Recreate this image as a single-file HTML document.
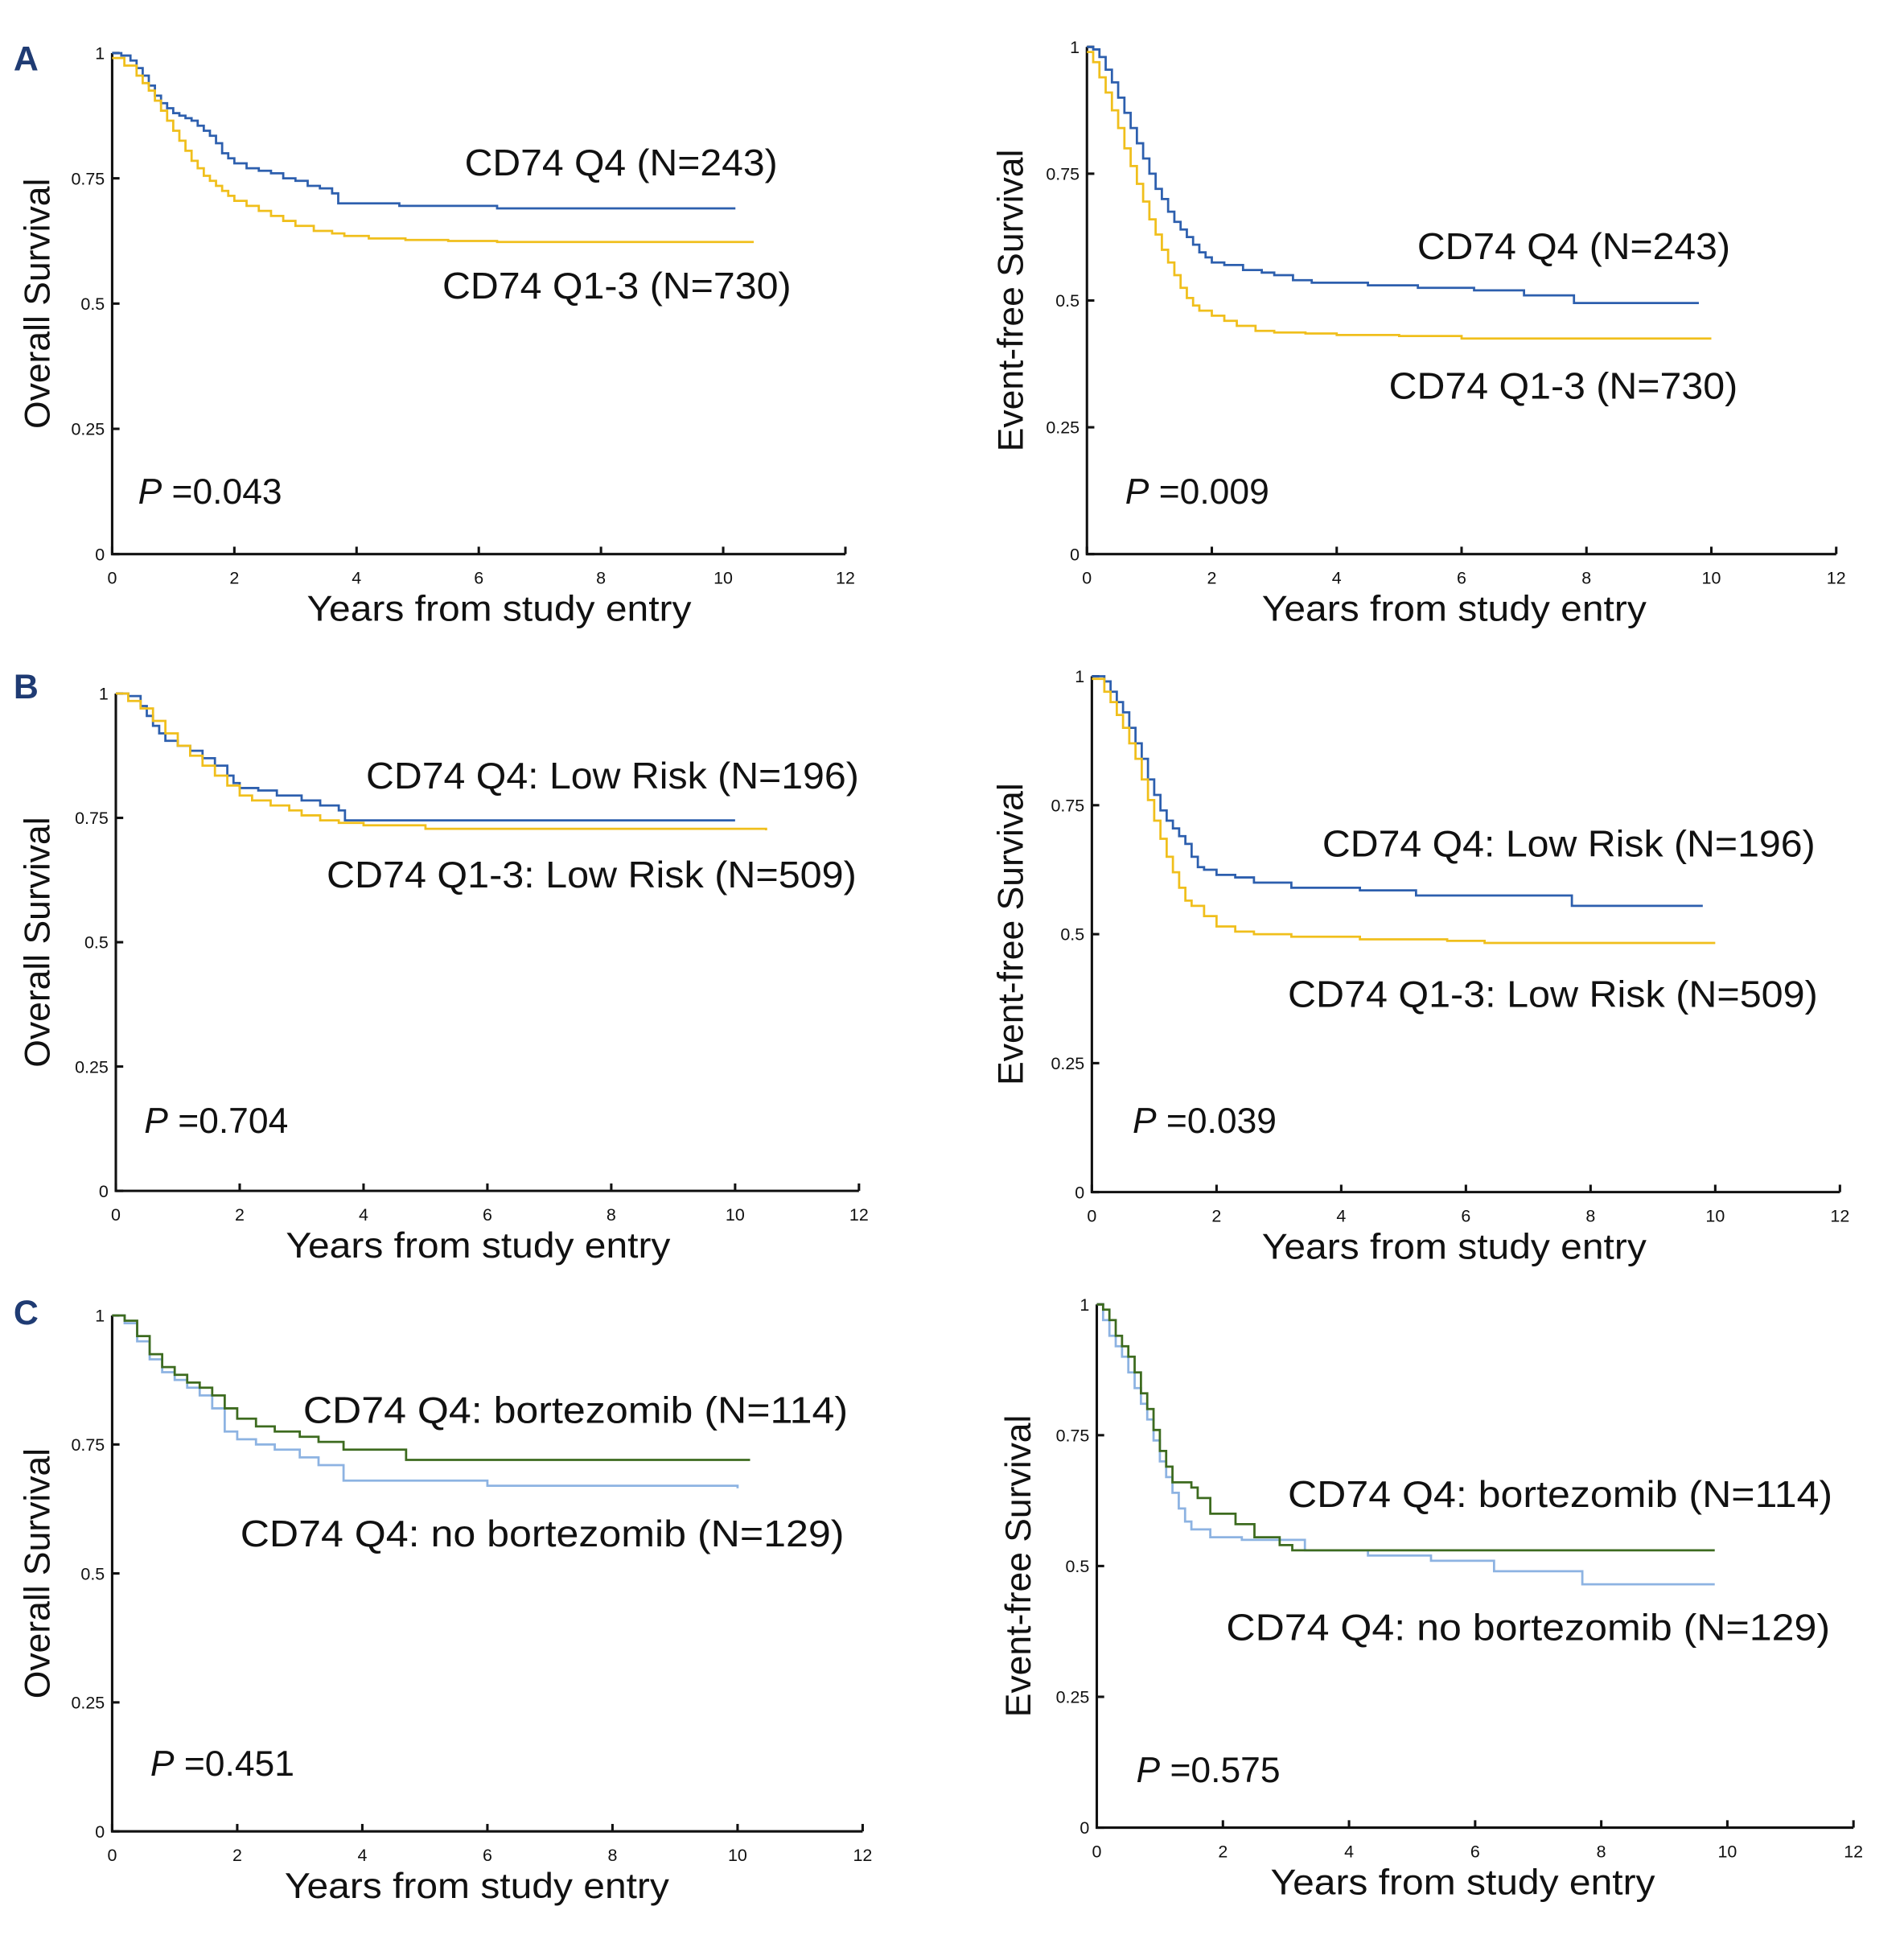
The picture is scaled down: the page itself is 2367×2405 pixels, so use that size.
<!DOCTYPE html>
<html><head><meta charset="utf-8"><style>
html,body{margin:0;padding:0;background:#fff}
svg{display:block}
text{font-family:"Liberation Sans",sans-serif;fill:#111}
</style></head><body>
<svg id="fig" width="2367" height="2405" viewBox="0 0 1545 1568" preserveAspectRatio="none" xmlns="http://www.w3.org/2000/svg"></svg>
<script>
// ---- data (years, survival probability) ----
const xTicks = [0,2,4,6,8,10,12];
const yTicks = [0,0.25,0.5,0.75,1];
const yTickLabels = ["0","0.25","0.5","0.75","1"];

const aOsQ4T = [0,0.15,0.3,0.4,0.5,0.6,0.7,0.8,0.9,1,1.1,1.2,1.3,1.4,1.5,1.6,1.7,1.8,1.9,2,2.2,2.4,2.6,2.8,3,3.2,3.4,3.6,3.7,4.7,6.3,10.2];
const aOsQ4S = [1,0.995,0.985,0.97,0.955,0.935,0.915,0.9,0.89,0.88,0.875,0.87,0.865,0.855,0.845,0.835,0.82,0.8,0.79,0.78,0.77,0.765,0.76,0.75,0.745,0.735,0.73,0.72,0.70,0.695,0.69,0.69];
const aOsQ13T = [0,0.2,0.4,0.5,0.6,0.7,0.8,0.9,1,1.1,1.2,1.3,1.4,1.5,1.6,1.7,1.8,1.9,2,2.2,2.4,2.6,2.8,3,3.3,3.6,3.8,4.2,4.8,5.5,6.3,10.5];
const aOsQ13S = [0.99,0.975,0.955,0.94,0.925,0.905,0.885,0.865,0.845,0.825,0.805,0.785,0.77,0.755,0.745,0.735,0.725,0.715,0.705,0.695,0.685,0.675,0.665,0.655,0.645,0.64,0.635,0.63,0.627,0.625,0.623,0.623];

const aEfsQ4T = [0,0.1,0.2,0.3,0.4,0.5,0.6,0.7,0.8,0.9,1,1.1,1.2,1.3,1.4,1.5,1.6,1.7,1.8,1.9,2,2.2,2.5,2.8,3,3.3,3.6,4.5,5.3,6.2,7,7.8,9.8];
const aEfsQ4S = [1,0.995,0.98,0.955,0.93,0.9,0.87,0.84,0.81,0.78,0.75,0.72,0.7,0.675,0.655,0.64,0.625,0.61,0.595,0.585,0.575,0.57,0.56,0.555,0.55,0.54,0.535,0.53,0.525,0.52,0.51,0.495,0.495];
const aEfsQ13T = [0,0.1,0.2,0.3,0.4,0.5,0.6,0.7,0.8,0.9,1,1.1,1.2,1.3,1.4,1.5,1.6,1.7,1.8,2,2.2,2.4,2.7,3,3.5,4,5,6,10];
const aEfsQ13S = [0.99,0.97,0.94,0.91,0.875,0.84,0.8,0.765,0.73,0.695,0.66,0.63,0.6,0.575,0.55,0.525,0.505,0.49,0.48,0.47,0.46,0.45,0.44,0.437,0.435,0.432,0.43,0.425,0.425];

const bOsQ4T = [0,0.2,0.4,0.5,0.6,0.7,0.8,1,1.2,1.4,1.6,1.8,1.9,2,2.3,2.6,3,3.3,3.6,3.7,10];
const bOsQ4S = [1,0.995,0.975,0.955,0.935,0.92,0.905,0.895,0.885,0.87,0.855,0.835,0.82,0.81,0.805,0.795,0.785,0.775,0.765,0.745,0.745];
const bOsQ13T = [0,0.2,0.4,0.6,0.8,1,1.2,1.4,1.6,1.8,2,2.2,2.5,2.8,3,3.3,3.6,4,5,10.5];
const bOsQ13S = [1,0.985,0.97,0.945,0.92,0.895,0.875,0.855,0.835,0.815,0.795,0.785,0.775,0.765,0.755,0.745,0.74,0.735,0.728,0.725];

const bEfsQ4T = [0,0.2,0.3,0.4,0.5,0.6,0.7,0.8,0.9,1,1.1,1.2,1.3,1.4,1.5,1.6,1.7,1.8,2,2.3,2.6,3.2,4.3,5.2,7.7,9.8];
const bEfsQ4S = [1,0.99,0.97,0.95,0.93,0.9,0.87,0.84,0.8,0.77,0.74,0.72,0.705,0.69,0.675,0.65,0.63,0.625,0.615,0.61,0.6,0.59,0.585,0.575,0.555,0.555];
const bEfsQ13T = [0,0.2,0.3,0.4,0.5,0.6,0.7,0.8,0.9,1,1.1,1.2,1.3,1.4,1.5,1.6,1.8,2,2.3,2.6,3.2,4.3,5.7,6.3,10];
const bEfsQ13S = [0.995,0.97,0.95,0.925,0.9,0.87,0.84,0.8,0.76,0.72,0.685,0.65,0.62,0.59,0.565,0.555,0.535,0.515,0.505,0.5,0.495,0.49,0.487,0.483,0.483];

const cOsBzT = [0,0.2,0.4,0.6,0.8,1,1.2,1.4,1.6,1.8,2,2.3,2.6,3,3.3,3.7,4.7,10.2];
const cOsBzS = [1,0.99,0.96,0.925,0.9,0.885,0.87,0.86,0.845,0.82,0.8,0.785,0.775,0.765,0.755,0.74,0.72,0.72];
const cOsNoT = [0,0.2,0.4,0.6,0.8,1,1.2,1.4,1.6,1.8,2,2.3,2.6,3,3.3,3.7,6,10];
const cOsNoS = [1,0.985,0.95,0.915,0.89,0.875,0.86,0.845,0.82,0.775,0.76,0.75,0.74,0.725,0.71,0.68,0.67,0.665];

const cEfsBzT = [0,0.1,0.2,0.3,0.4,0.5,0.6,0.7,0.8,0.9,1,1.1,1.2,1.5,1.6,1.8,2.2,2.5,2.9,3.1,9.8];
const cEfsBzS = [1,0.99,0.97,0.94,0.92,0.9,0.87,0.83,0.8,0.76,0.72,0.69,0.66,0.65,0.63,0.6,0.58,0.555,0.54,0.53,0.53];
const cEfsNoT = [0,0.1,0.2,0.3,0.4,0.5,0.6,0.7,0.8,0.9,1,1.1,1.2,1.3,1.4,1.5,1.8,2.3,3.3,4.3,5.3,6.3,7.7,9.8];
const cEfsNoS = [1,0.97,0.94,0.92,0.9,0.87,0.84,0.81,0.78,0.74,0.7,0.67,0.64,0.61,0.585,0.57,0.555,0.55,0.53,0.52,0.51,0.49,0.465,0.465];

// ---- layout ----
const BLUE="#2d5fae", GOLD="#f0bf1c", GREEN="#3d6b1f", LBLUE="#8db3e2";
const panels = [
 {id:"a-os",x0:91,x1:686,yT:43,yB:449,yl:"Overall Survival",ylx:40,xlx:405,p:"=0.043",px:112,py:408,
  curves:[[aOsQ4T,aOsQ4S,BLUE,"q4"],[aOsQ13T,aOsQ13S,GOLD,"q1-3"]],
  labels:[["CD74 Q4 (N=243)",377,142,254],["CD74 Q1-3 (N=730)",359,242,283]]},
 {id:"a-efs",x0:882,x1:1490,yT:38,yB:449,yl:"Event-free Survival",ylx:830,xlx:1180,p:"=0.009",px:913,py:408,
  curves:[[aEfsQ4T,aEfsQ4S,BLUE,"q4"],[aEfsQ13T,aEfsQ13S,GOLD,"q1-3"]],
  labels:[["CD74 Q4 (N=243)",1150,210,254],["CD74 Q1-3 (N=730)",1127,323,283]]},
 {id:"b-os",x0:94,x1:697,yT:562,yB:965,yl:"Overall Survival",ylx:40,xlx:388,p:"=0.704",px:117,py:918,
  curves:[[bOsQ4T,bOsQ4S,BLUE,"q4"],[bOsQ13T,bOsQ13S,GOLD,"q1-3"]],
  labels:[["CD74 Q4: Low Risk (N=196)",297,639,400],["CD74 Q1-3: Low Risk (N=509)",265,719,430]]},
 {id:"b-efs",x0:886,x1:1493,yT:548,yB:966,yl:"Event-free Survival",ylx:830,xlx:1180,p:"=0.039",px:919,py:918,
  curves:[[bEfsQ4T,bEfsQ4S,BLUE,"q4"],[bEfsQ13T,bEfsQ13S,GOLD,"q1-3"]],
  labels:[["CD74 Q4: Low Risk (N=196)",1073,694,400],["CD74 Q1-3: Low Risk (N=509)",1045,816,430]]},
 {id:"c-os",x0:91,x1:700,yT:1066,yB:1484,yl:"Overall Survival",ylx:40,xlx:387,p:"=0.451",px:122,py:1439,
  curves:[[cOsNoT,cOsNoS,LBLUE,"no-bortezomib"],[cOsBzT,cOsBzS,GREEN,"bortezomib"]],
  labels:[["CD74 Q4: bortezomib (N=114)",246,1153,442],["CD74 Q4: no bortezomib (N=129)",195,1253,490]]},
 {id:"c-efs",x0:890,x1:1504,yT:1057,yB:1481,yl:"Event-free Survival",ylx:836,xlx:1187,p:"=0.575",px:922,py:1444,
  curves:[[cEfsNoT,cEfsNoS,LBLUE,"no-bortezomib"],[cEfsBzT,cEfsBzS,GREEN,"bortezomib"]],
  labels:[["CD74 Q4: bortezomib (N=114)",1045,1221,442],["CD74 Q4: no bortezomib (N=129)",995,1329,490]]}
];
const NS="http://www.w3.org/2000/svg";
const svg=document.getElementById("fig");
function mk(tag,attrs,parent,txt){const e=document.createElementNS(NS,tag);for(const k in attrs)e.setAttribute(k,attrs[k]);if(txt!==undefined)e.textContent=txt;(parent||svg).appendChild(e);return e;}

[["A",57],["B",566],["C",1073]].forEach(([l,y])=>{
  const t=mk("text",{x:11,y:y,"font-size":28,"font-weight":"bold",style:"fill:#1f3b73"},svg,l);
  
  
});

panels.forEach(P=>{
  const g=mk("g",{});
  
  
  const sx=v=>P.x0+(P.x1-P.x0)*v/12;
  const sy=v=>P.yB-(P.yB-P.yT)*v;
  const ax=mk("path",{d:`M${P.x0},${P.yT} V${P.yB} H${P.x1}`,stroke:"#111","stroke-width":2,fill:"none"},g);
  
  
  xTicks.forEach(v=>{
    mk("line",{x1:sx(v),x2:sx(v),y1:P.yB,y2:P.yB-6,stroke:"#111","stroke-width":2},g);
    const t=mk("text",{x:sx(v),y:P.yB+24,"font-size":14,"text-anchor":"middle"},g,String(v));
    
    
  });
  yTicks.forEach((v,i)=>{
    mk("line",{x1:P.x0,x2:P.x0+6,y1:sy(v),y2:sy(v),stroke:"#111","stroke-width":2},g);
    const t=mk("text",{x:P.x0-6,y:sy(v)+5,"font-size":14,"text-anchor":"end"},g,yTickLabels[i]);
    
    
  });
  const xl=mk("text",{x:P.xlx,y:P.yB+54,"font-size":29,"text-anchor":"middle",textLength:312,lengthAdjust:"spacingAndGlyphs"},g,"Years from study entry");
  
  
  const yc=(P.yT+P.yB)/2;
  const yl=mk("text",{x:0,y:0,"font-size":29,"text-anchor":"middle",transform:`translate(${P.ylx},${yc}) rotate(-90)`},g,P.yl);
  
  
  P.curves.forEach(([T,S,col,nm])=>{
    let d=`M${sx(T[0])},${sy(S[0])}`;
    for(let i=1;i<T.length;i++){d+=` H${sx(T[i])} V${sy(S[i])}`;}
    const p=mk("path",{d,stroke:col,"stroke-width":1.8,fill:"none"},g);
    
    
  });
  P.labels.forEach(([txt,x,y,w])=>{
    const t=mk("text",{x,y,"font-size":30,textLength:w,lengthAdjust:"spacingAndGlyphs"},g,txt);
    
    
  });
  const pt=mk("text",{x:P.px,y:P.py,"font-size":29},g);
  
  
  mk("tspan",{"font-style":"italic"},pt,"P");
  mk("tspan",{},pt," "+P.p);
});
</script>
</body></html>
